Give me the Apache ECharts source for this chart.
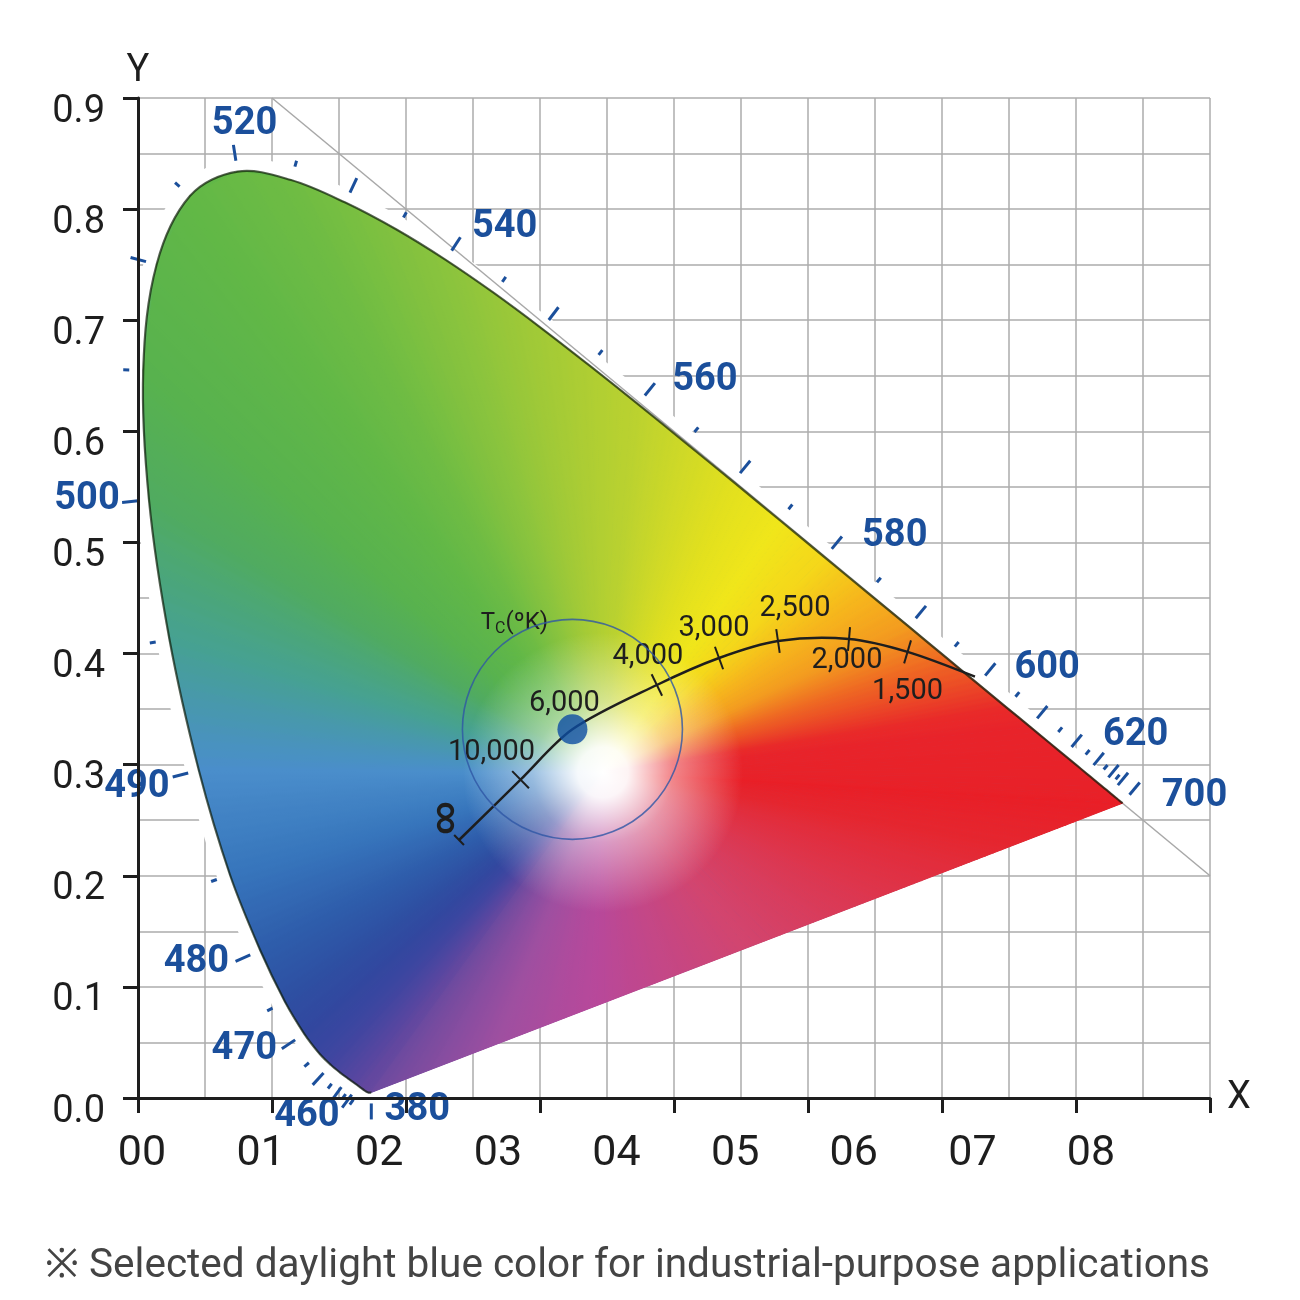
<!DOCTYPE html>
<html>
<head>
<meta charset="utf-8">
<style>
  html, body { margin: 0; padding: 0; background: #fff; }
  #chart { width: 1300px; height: 1300px; }
</style>
<script src="https://cdn.jsdelivr.net/npm/echarts@6/dist/echarts.min.js"></script>
</head>
<body>
<div id="chart"></div>
<script>
// spectral locus (nm -> x, y)
const wavelengths = [
  380, 385, 390, 395, 400, 405, 410, 415, 420, 425,
  430, 435, 440, 445, 450, 455, 460, 465, 470, 475,
  480, 485, 490, 495, 500, 505, 510, 515, 520, 525,
  530, 535, 540, 545, 550, 555, 560, 565, 570, 575,
  580, 585, 590, 595, 600, 605, 610, 615, 620, 625,
  630, 635, 640, 645, 650, 655, 660, 665, 670, 675,
  680, 685, 690, 695, 700
]
const locusX = [
  0.1741, 0.1740, 0.1738, 0.1736, 0.1733, 0.1730, 0.1726, 0.1721, 0.1714, 0.1703,
  0.1689, 0.1669, 0.1644, 0.1611, 0.1566, 0.1510, 0.1440, 0.1355, 0.1241, 0.1096,
  0.0913, 0.0687, 0.0454, 0.0235, 0.0082, 0.0039, 0.0139, 0.0389, 0.0743, 0.1142,
  0.1547, 0.1929, 0.2296, 0.2658, 0.3016, 0.3373, 0.3731, 0.4087, 0.4441, 0.4788,
  0.5125, 0.5448, 0.5752, 0.6029, 0.6270, 0.6482, 0.6658, 0.6801, 0.6915, 0.7006,
  0.7079, 0.7140, 0.7190, 0.7230, 0.7260, 0.7283, 0.7300, 0.7311, 0.7320, 0.7327,
  0.7334, 0.7340, 0.7344, 0.7346, 0.7347
]
const locusY = [
  0.0050, 0.0050, 0.0049, 0.0049, 0.0048, 0.0048, 0.0048, 0.0048, 0.0051, 0.0058,
  0.0069, 0.0086, 0.0109, 0.0138, 0.0177, 0.0227, 0.0297, 0.0399, 0.0578, 0.0868,
  0.1327, 0.2007, 0.2950, 0.4127, 0.5384, 0.6548, 0.7502, 0.8120, 0.8338, 0.8262,
  0.8059, 0.7816, 0.7543, 0.7243, 0.6923, 0.6589, 0.6245, 0.5896, 0.5547, 0.5202,
  0.4866, 0.4544, 0.4242, 0.3965, 0.3725, 0.3514, 0.3340, 0.3197, 0.3083, 0.2993,
  0.2920, 0.2859, 0.2809, 0.2770, 0.2740, 0.2717, 0.2700, 0.2689, 0.2680, 0.2673,
  0.2666, 0.2660, 0.2656, 0.2654, 0.2653
]

// planckian locus
const tcLabels = ['∞', '10,000', '6,000', '4,000', '3,000', '2,500', '2,000', '1,500', '']
const tcX = [0.2396, 0.2855, 0.3242, 0.3872, 0.4336, 0.4776, 0.5306, 0.5743, 0.6246]
const tcY = [0.2322, 0.2865, 0.3318, 0.3717, 0.3960, 0.4113, 0.4131, 0.4015, 0.3792]

const selectedPoint = [0.3242, 0.3318]
const whitePoint = [0.347, 0.293]

const boundaryX = [0.1, 0.8]
const boundaryY = [0.9, 0.2]

const xTickLabels = ['00', '01', '02', '03', '04', '05', '06', '07', '08']
const yTickLabels = ['0.0', '0.1', '0.2', '0.3', '0.4', '0.5', '0.6', '0.7', '0.8', '0.9']

const caption = '※ Selected daylight blue color for industrial-purpose applications'

// ---- styles ----
const BLUE = '#1b4f9b'
const INK = '#1e1e1e'
const GRID = '#acacac'

const hueStops = [
  [380, '#6c4a9f'], [435, '#62479f'], [450, '#5346a0'], [460, '#4245a0'],
  [470, '#32479f'], [478, '#2c53a4'], [484, '#3370b9'], [490, '#4a8ecb'],
  [495, '#46a192'], [500, '#50ab60'], [505, '#58b24e'], [515, '#62b846'],
  [525, '#6fbc43'], [540, '#8bc43d'], [550, '#a3ca36'], [560, '#bbd22f'],
  [565, '#cfd927'], [570, '#e2e01e'], [575, '#f0e61a'], [580, '#f5d71a'],
  [585, '#f6b51c'], [590, '#f39a1f'], [595, '#ef6a22'], [600, '#eb4826'],
  [603, '#e93028'], [607, '#e8232a'], [700, '#e91e26']
]
// along the purple line, 380 -> 700
const purpleStops = [
  [0, '#6c4a9f'], [0.17, '#9f4fa0'], [0.3, '#b8489a'], [0.5, '#d2456f'],
  [0.7, '#df3348'], [0.85, '#e5262f'], [1, '#e91e26']
]

const labelOffset = {
  380: [46, 18], 460: [-24, 51], 470: [-60, 16], 480: [-64, 12], 490: [-62, 17],
  500: [-62, 0], 520: [7, -47], 540: [59, -32], 560: [67, -24], 580: [70, -21],
  600: [69, -16], 620: [71, -20], 700: [72, -7]
}
const tcOffset = [[-13, -22], [-29, -27], [-8, -26], [-9, -28], [-5, -29], [17, -32], [-2, 22], [0, 40]]

function hueAt(w) {
  for (let k = 0; k < hueStops.length - 1; k++) {
    const a = hueStops[k], b = hueStops[k + 1]
    if (w >= a[0] && w <= b[0]) {
      return echarts.color.lerp((w - a[0]) / (b[0] - a[0]), [a[1], b[1]])
    }
  }
  return hueStops[hueStops.length - 1][1]
}

function unit(p, o) {
  const dx = p[0] - o[0], dy = p[1] - o[1]
  const l = Math.hypot(dx, dy) || 1
  return [dx / l, dy / l]
}

// one thin wedge of the colour fan, white point -> two boundary points
function fanPiece(W, P, Q, c0, c1) {
  const dP = Math.hypot(P[0] - W[0], P[1] - W[1])
  const dQ = Math.hypot(Q[0] - W[0], Q[1] - W[1])
  const r = Math.min(200, 0.85 * Math.min(dP, dQ))
  const up = unit(P, W), uq = unit(Q, W)
  const grad = new echarts.graphic.LinearGradient(
    W[0] + up[0] * r, W[1] + up[1] * r, W[0] + uq[0] * r, W[1] + uq[1] * r,
    [{ offset: 0, color: c0 }, { offset: 1, color: c1 }], true)
  return {
    type: 'polygon',
    shape: { points: [W, P, Q] },
    style: { fill: grad, stroke: grad, lineWidth: 1 }
  }
}

// split one boundary edge into narrow wedges so the hue turns smoothly
function fanStrip(out, W, P, Q, c0, c1) {
  const len = Math.hypot(Q[0] - P[0], Q[1] - P[1])
  if (len < 0.4) return
  const m = Math.max(1, Math.ceil(len / 9))
  let prev = P, prevC = c0
  for (let k = 1; k <= m; k++) {
    const t = k / m
    const cur = [P[0] + (Q[0] - P[0]) * t, P[1] + (Q[1] - P[1]) * t]
    const curC = echarts.color.lerp(t, [c0, c1])
    out.push(fanPiece(W, prev, cur, prevC, curC))
    prev = cur; prevC = curC
  }
}

function locusPixels(api) {
  return wavelengths.map((w, i) => api.coord([locusX[i], locusY[i]]))
}

function renderFill(params, api) {
  const W = api.coord(whitePoint)
  const pts = locusPixels(api)
  const children = []
  // white halo that cuts the grid round the curved edge
  children.push({
    type: 'polyline',
    shape: { points: pts, smooth: 0.35 },
    style: { stroke: '#fff', lineWidth: 26, fill: null }
  })
  const b0 = api.coord([boundaryX[0], boundaryY[0]])
  const b1 = api.coord([boundaryX[1], boundaryY[1]])
  children.push({
    type: 'line',
    shape: { x1: b0[0], y1: b0[1], x2: b1[0], y2: b1[1] },
    style: { stroke: '#a8a8a8', lineWidth: 1.5 }
  })
  children.push({
    type: 'polyline',
    shape: { points: pts, smooth: 0.35 },
    style: {
      stroke: null,
      fill: new echarts.graphic.LinearGradient(0, 0, 0, 1, [
        { offset: 0, color: '#62b846' }, { offset: 0.45, color: '#4aa77a' },
        { offset: 0.62, color: '#4a8ecb' }, { offset: 0.85, color: '#2d55a5' },
        { offset: 1, color: '#6c4a9f' }
      ])
    }
  })
  for (let i = 0; i < pts.length - 1; i++) {
    fanStrip(children, W, pts[i], pts[i + 1], hueAt(wavelengths[i]), hueAt(wavelengths[i + 1]))
  }
  const s = pts[0], e = pts[pts.length - 1]
  const along = t => [s[0] + (e[0] - s[0]) * t, s[1] + (e[1] - s[1]) * t]
  for (let k = purpleStops.length - 1; k > 0; k--) {
    fanStrip(children, W, along(purpleStops[k][0]), along(purpleStops[k - 1][0]),
      purpleStops[k][1], purpleStops[k - 1][1])
  }
  children.push({
    type: 'polygon',
    shape: { points: pts },
    style: {
      stroke: null,
      fill: new echarts.graphic.RadialGradient(W[0], W[1], 140, [
        { offset: 0, color: 'rgba(255,255,255,1)' },
        { offset: 0.18, color: 'rgba(255,255,255,0.95)' },
        { offset: 0.5, color: 'rgba(255,255,255,0.45)' },
        { offset: 1, color: 'rgba(255,255,255,0)' }
      ], true)
    }
  })
  children.push({
    type: 'polyline',
    shape: { points: pts, smooth: 0.35 },
    style: { stroke: 'rgba(15,30,10,0.7)', lineWidth: 2.2, fill: null }
  })
  return { type: 'group', children }
}

function renderWaveTick(params, api) {
  const i = params.dataIndex
  const w = wavelengths[i]
  if ((w > 380 && w < 435) || (w > 650 && w < 700)) return null
  const p = api.coord([locusX[i], locusY[i]])
  let nx = 0, ny = 1
  if (w !== 380) {
    const a = api.coord([locusX[i - 1], locusY[i - 1]])
    const j = Math.min(i + 1, wavelengths.length - 1)
    const b = api.coord([locusX[j], locusY[j]])
    const d = unit(b, a)
    nx = d[1]; ny = -d[0]
  }
  const major = w % 10 === 0
  const r0 = major ? 11 : 14, r1 = major ? 27 : 20
  const children = [{
    type: 'line',
    shape: { x1: p[0] + nx * r0, y1: p[1] + ny * r0, x2: p[0] + nx * r1, y2: p[1] + ny * r1 },
    style: { stroke: BLUE, lineWidth: 3 }
  }]
  const off = labelOffset[w]
  if (off) {
    children.push({
      type: 'text',
      style: {
        text: String(w), x: p[0] + off[0], y: p[1] + off[1],
        fill: BLUE, font: 'bold 38px Roboto', align: 'center', verticalAlign: 'middle'
      }
    })
  }
  return { type: 'group', children }
}

function renderTc(params, api) {
  const pts = tcX.map((x, i) => api.coord([x, tcY[i]]))
  const children = [{
    type: 'polyline',
    shape: { points: pts, smooth: 0.3 },
    style: { stroke: INK, lineWidth: 2.5, fill: null }
  }]
  for (let i = 0; i < pts.length - 1; i++) {
    const a = pts[Math.max(i - 1, 0)], b = pts[i + 1]
    const d = unit(b, a)
    const h = i === 0 ? 7 : 12
    const p = pts[i]
    if (i !== 2) {
      children.push({
        type: 'line',
        shape: { x1: p[0] + d[1] * h, y1: p[1] - d[0] * h, x2: p[0] - d[1] * h, y2: p[1] + d[0] * h },
        style: { stroke: INK, lineWidth: 2 }
      })
    }
    const off = tcOffset[i]
    children.push({
      type: 'text',
      x: p[0] + off[0], y: p[1] + off[1],
      rotation: i === 0 ? Math.PI / 2 : 0,
      style: {
        text: tcLabels[i], x: 0, y: 0, fill: INK,
        font: i === 0 ? 'bold 32px Roboto' : '29px Roboto',
        align: 'center', verticalAlign: 'middle'
      }
    })
  }
  const c = pts[2]
  children.push({
    type: 'text',
    style: {
      text: '{t|T}{s|C}{t|(ºK)}', x: c[0] - 58, y: c[1] - 106,
      align: 'center', verticalAlign: 'middle',
      rich: {
        t: { fontSize: 24, fontFamily: 'Roboto', fill: INK, color: INK },
        s: { fontSize: 16, fontFamily: 'Roboto', fill: INK, color: INK, padding: [12, 0, 0, 0] }
      }
    }
  })
  return { type: 'group', children }
}

const lineAxisStyle = { color: INK, width: 3 }
const nameStyle = { fontSize: 38, fontFamily: 'Roboto', color: INK }
const gridBox = { left: 138, right: 90, top: 98, bottom: 202, containLabel: false, outerBoundsMode: 'none' }

const option = {
  animation: false,
  backgroundColor: '#fff',
  grid: [
    gridBox,
    Object.assign({}, gridBox),
    // label-only grid, nudged to where the printed tick labels sit
    { left: 142, width: 949, top: 112, bottom: 188, containLabel: false, outerBoundsMode: 'none' }
  ],
  xAxis: [
    {
      gridIndex: 0, type: 'value', min: 0, max: 0.8, interval: 0.1, z: 0,
      axisLine: { show: false }, axisTick: { show: false }, axisLabel: { show: false },
      splitLine: { show: true, lineStyle: { color: GRID, width: 1.5 } },
      minorTick: { show: false, splitNumber: 2 },
      minorSplitLine: { show: true, lineStyle: { color: GRID, width: 1.5 } }
    },
    {
      gridIndex: 1, type: 'value', min: 0, max: 0.8, interval: 0.1, z: 20,
      axisLine: { show: true, onZero: false, lineStyle: lineAxisStyle },
      axisTick: { show: true, length: 15, lineStyle: lineAxisStyle },
      axisLabel: { show: false }, splitLine: { show: false },
      name: 'X', nameLocation: 'end', nameGap: 17, nameTextStyle: nameStyle
    },
    {
      gridIndex: 2, type: 'category', data: xTickLabels, boundaryGap: false,
      axisLine: { show: false }, axisTick: { show: false }, splitLine: { show: false },
      axisLabel: { margin: 21, fontSize: 43, fontFamily: 'Roboto', color: INK }
    }
  ],
  yAxis: [
    {
      gridIndex: 0, type: 'value', min: 0, max: 0.9, interval: 0.1, z: 0,
      axisLine: { show: false }, axisTick: { show: false }, axisLabel: { show: false },
      splitLine: { show: true, lineStyle: { color: GRID, width: 1.5 } },
      minorTick: { show: false, splitNumber: 2 },
      minorSplitLine: { show: true, lineStyle: { color: GRID, width: 1.5 } }
    },
    {
      gridIndex: 1, type: 'value', min: 0, max: 0.9, interval: 0.1, z: 20,
      axisLine: { show: true, onZero: false, lineStyle: lineAxisStyle },
      axisTick: { show: true, length: 15, lineStyle: lineAxisStyle },
      axisLabel: { show: false }, splitLine: { show: false },
      name: 'Y', nameLocation: 'end', nameGap: 8, nameTextStyle: nameStyle
    },
    {
      gridIndex: 2, type: 'category', data: yTickLabels, boundaryGap: false,
      axisLine: { show: false }, axisTick: { show: false }, splitLine: { show: false },
      axisLabel: { margin: 37, fontSize: 38, fontFamily: 'Roboto', color: INK }
    }
  ],
  series: [
    {
      type: 'custom', xAxisIndex: 0, yAxisIndex: 0, z: 3, silent: true,
      data: [whitePoint], renderItem: renderFill
    },
    {
      type: 'custom', xAxisIndex: 0, yAxisIndex: 0, z: 5, silent: true,
      data: wavelengths.map((w, i) => [locusX[i], locusY[i]]), renderItem: renderWaveTick
    },
    {
      type: 'custom', xAxisIndex: 0, yAxisIndex: 0, z: 7, silent: true,
      data: tcX.map((x, i) => [x, tcY[i]]).slice(0, 1), renderItem: renderTc
    },
    {
      type: 'scatter', xAxisIndex: 0, yAxisIndex: 0, z: 8, silent: true,
      data: [selectedPoint], symbolSize: 220,
      itemStyle: { color: 'rgba(0,0,0,0)', borderColor: '#2e56a5', borderWidth: 1.6 }
    },
    {
      type: 'scatter', xAxisIndex: 0, yAxisIndex: 0, z: 9, silent: true,
      data: [selectedPoint], symbolSize: 30, itemStyle: { color: '#0c4ea3' }
    }
  ],
  graphic: [{
    type: 'text', left: 45, top: 1246,
    style: { text: caption, font: '40.5px Roboto', fill: '#444' }
  }]
}

const chart = echarts.init(document.getElementById('chart'))
chart.setOption(option)
</script>
</body>
</html>
